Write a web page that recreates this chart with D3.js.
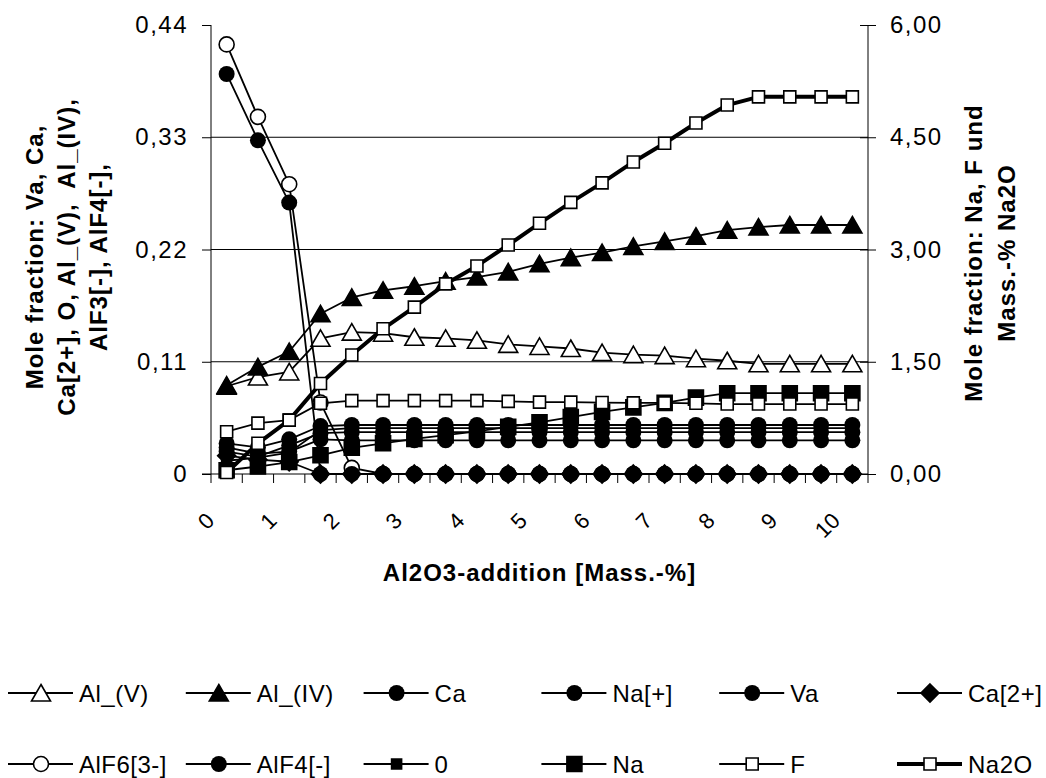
<!DOCTYPE html>
<html>
<head>
<meta charset="utf-8">
<script src="https://cdn.jsdelivr.net/npm/d3@7"></script>
<style>
  body { margin: 0; background: #fff; }
  text { font-family: "Liberation Sans", Arial, sans-serif; fill: #000; }
</style>
</head>
<body>
<div id="chart"></div>
<script>
////////////////////////////////////////////////////////////////////////
// Data

// Al2O3 addition in steps of 0.5 mass-%
let categories = [0, 0.5, 1, 1.5, 2, 2.5, 3, 3.5, 4, 4.5, 5, 5.5, 6, 6.5, 7, 7.5, 8, 8.5, 9, 9.5, 10];
let xTickLabels = ["0", "1", "2", "3", "4", "5", "6", "7", "8", "9", "10"];

let leftTicks = [0, 0.11, 0.22, 0.33, 0.44];
let leftTickLabels = ["0", "0,11", "0,22", "0,33", "0,44"];
let rightTicks = [0, 1.5, 3, 4.5, 6];
let rightTickLabels = ["0,00", "1,50", "3,00", "4,50", "6,00"];

// primary axis (mole fraction)
let alV    = [0.086, 0.095, 0.100, 0.133, 0.139, 0.138, 0.134, 0.133, 0.131, 0.127, 0.125, 0.123, 0.119, 0.117, 0.116, 0.113, 0.111, 0.108, 0.108, 0.108, 0.108];
let alIV   = [0.087, 0.105, 0.120, 0.157, 0.173, 0.180, 0.184, 0.189, 0.193, 0.198, 0.206, 0.212, 0.217, 0.223, 0.228, 0.233, 0.239, 0.242, 0.244, 0.244, 0.244];
let ca     = [0.030, 0.026, 0.034, 0.047, 0.048, 0.048, 0.048, 0.048, 0.048, 0.048, 0.048, 0.048, 0.048, 0.048, 0.048, 0.048, 0.048, 0.048, 0.048, 0.048, 0.048];
let naPlus = [0.026, 0.020, 0.022, 0.034, 0.033, 0.033, 0.033, 0.033, 0.033, 0.033, 0.033, 0.033, 0.033, 0.033, 0.033, 0.033, 0.033, 0.033, 0.033, 0.033, 0.033];
let va     = [0.022, 0.017, 0.028, 0.040, 0.041, 0.041, 0.041, 0.041, 0.041, 0.041, 0.041, 0.041, 0.041, 0.041, 0.041, 0.041, 0.041, 0.041, 0.041, 0.041, 0.041];
let ca2    = [0.018, 0.014, 0.012, 0.000, 0.000, 0.000, 0.000, 0.000, 0.000, 0.000, 0.000, 0.000, 0.000, 0.000, 0.000, 0.000, 0.000, 0.000, 0.000, 0.000, 0.000];
let alF6   = [0.421, 0.350, 0.284, 0.070, 0.006, 0.000, 0.000, 0.000, 0.000, 0.000, 0.000, 0.000, 0.000, 0.000, 0.000, 0.000, 0.000, 0.000, 0.000, 0.000, 0.000];
let alF4   = [0.392, 0.327, 0.266, 0.000, 0.000, 0.000, 0.000, 0.000, 0.000, 0.000, 0.000, 0.000, 0.000, 0.000, 0.000, 0.000, 0.000, 0.000, 0.000, 0.000, 0.000];
let oxy    = [0.013, 0.016, 0.021, 0.043, 0.045, 0.045, 0.045, 0.045, 0.045, 0.045, 0.045, 0.045, 0.045, 0.045, 0.045, 0.045, 0.045, 0.045, 0.045, 0.045, 0.045];

// secondary axis (Na, F mole fraction and mass-% Na2O)
let na     = [0.05, 0.10, 0.16, 0.25, 0.35, 0.41, 0.47, 0.52, 0.57, 0.63, 0.69, 0.76, 0.83, 0.89, 0.95, 1.02, 1.08, 1.08, 1.08, 1.08, 1.08];
let fl     = [0.565, 0.68, 0.72, 0.945, 0.98, 0.98, 0.98, 0.98, 0.98, 0.97, 0.96, 0.96, 0.955, 0.95, 0.95, 0.945, 0.935, 0.935, 0.935, 0.935, 0.935];
let na2o   = [0.02, 0.41, 0.72, 1.21, 1.59, 1.94, 2.23, 2.54, 2.78, 3.06, 3.35, 3.63, 3.89, 4.17, 4.42, 4.69, 4.93, 5.04, 5.04, 5.04, 5.04];

// series table in legend order (also drawing order)
let series = [
  { name: "Al_(V)",   values: alV,    axis: "L", marker: "triangle", fill: "#fff", width: 1.8 },
  { name: "Al_(IV)",  values: alIV,   axis: "L", marker: "triangle", fill: "#000", width: 1.8 },
  { name: "Ca",       values: ca,     axis: "L", marker: "circle",   fill: "#000", width: 1.8 },
  { name: "Na[+]",    values: naPlus, axis: "L", marker: "circle",   fill: "#000", width: 1.8 },
  { name: "Va",       values: va,     axis: "L", marker: "circle",   fill: "#000", width: 1.8 },
  { name: "Ca[2+]",   values: ca2,    axis: "L", marker: "diamond",  fill: "#000", width: 1.8 },
  { name: "AlF6[3-]", values: alF6,   axis: "L", marker: "ocircle",  fill: "#fff", width: 1.8 },
  { name: "AlF4[-]",  values: alF4,   axis: "L", marker: "circle",   fill: "#000", width: 1.8 },
  { name: "0",        values: oxy,    axis: "L", marker: "ssquare",  fill: "#000", width: 1.8 },
  { name: "Na",       values: na,     axis: "R", marker: "bsquare",  fill: "#000", width: 1.8 },
  { name: "F",        values: fl,     axis: "R", marker: "osquare",  fill: "#fff", width: 1.8 },
  { name: "Na2O",     values: na2o,   axis: "R", marker: "osquare",  fill: "#fff", width: 4 }
];

////////////////////////////////////////////////////////////////////////
// Layout

let width = 1046, height = 778;
let plotLeft = 211, plotRight = 868, plotTop = 25, plotBottom = 474;

let svg = d3.select("#chart").append("svg")
  .attr("width", width).attr("height", height);

let xScale = d3.scaleBand().domain(categories).range([plotLeft, plotRight]);
let yLeft = d3.scaleLinear().domain([0, 0.44]).range([plotBottom, plotTop]);
let yRight = d3.scaleLinear().domain([0, 6]).range([plotBottom, plotTop]);

function cx(d) { return xScale(d) + xScale.bandwidth() / 2; }

// marker shapes
function markerPath(type) {
  if (type == "triangle") return "M0,-8.5L9.5,8L-9.5,8Z";
  if (type == "diamond") return "M0,-9L9,0L0,9L-9,0Z";
  let s = type == "ssquare" ? 5 : type == "bsquare" ? 7.5 : type == "osquare" ? 6 : 0;
  return `M${-s},${-s}H${s}V${s}H${-s}Z`;
}

function drawMarker(g, s, x, y) {
  if (s.marker == "circle") {
    g.append("circle").attr("cx", x).attr("cy", y).attr("r", 8).attr("fill", "#000");
  } else if (s.marker == "ocircle") {
    g.append("circle").attr("cx", x).attr("cy", y).attr("r", 7.5)
      .attr("fill", "#fff").attr("stroke", "#000").attr("stroke-width", 1.6);
  } else {
    g.append("path").attr("transform", `translate(${x},${y})`)
      .attr("d", markerPath(s.marker))
      .attr("fill", s.fill).attr("stroke", "#000").attr("stroke-width", 1.6);
  }
}

// gridlines
svg.append("g").selectAll("line")
  .data(leftTicks.slice(1, 4))
  .join("line")
  .attr("x1", plotLeft).attr("x2", plotRight)
  .attr("y1", d => yLeft(d)).attr("y2", d => yLeft(d))
  .attr("stroke", "#000").attr("stroke-width", 1);

// left axis
let leftAxis = svg.append("g")
  .attr("transform", `translate(${plotLeft},0)`)
  .call(d3.axisLeft(yLeft).tickValues(leftTicks).tickSize(9).tickPadding(14)
    .tickFormat((d, i) => leftTickLabels[i]));

// right axis (ticks cross the line)
let rightAxis = svg.append("g")
  .attr("transform", `translate(${plotRight},0)`)
  .call(d3.axisRight(yRight).tickValues(rightTicks).tickSize(8).tickPadding(14)
    .tickFormat((d, i) => rightTickLabels[i]));
rightAxis.selectAll(".tick line").attr("x1", -8);

[leftAxis, rightAxis].forEach(a => {
  a.select(".domain").attr("d", `M0,${plotTop}V${plotBottom}`).attr("stroke", "#000");
  a.selectAll(".tick line").attr("stroke", "#000");
  a.selectAll(".tick text")
    .style("font-family", "'Liberation Sans', Arial, sans-serif")
    .style("font-size", "24px").style("letter-spacing", "1.5px").attr("fill", "#000");
});

// x axis: line plus ticks at the category borders
let xAxisG = svg.append("g");
xAxisG.append("line")
  .attr("x1", plotLeft - 9).attr("x2", plotRight)
  .attr("y1", plotBottom).attr("y2", plotBottom)
  .attr("stroke", "#000");
xAxisG.selectAll(".xtick")
  .data(categories.concat(["end"]))
  .join("line")
  .attr("class", "xtick")
  .attr("x1", d => d == "end" ? plotRight : xScale(d))
  .attr("x2", d => d == "end" ? plotRight : xScale(d))
  .attr("y1", plotBottom).attr("y2", plotBottom + 9)
  .attr("stroke", "#000");

let labelled = categories.filter(c => Number.isInteger(c));
xAxisG.selectAll(".xlabel")
  .data(labelled)
  .join("text")
  .attr("class", "xlabel")
  .attr("text-anchor", "end")
  .attr("transform", d => `translate(${cx(d) - 11},522) rotate(-45)`)
  .attr("font-size", "22px")
  .text((d, i) => xTickLabels[i]);

// series
let lineGen = d3.line();
series.forEach(s => {
  let y = s.axis == "L" ? yLeft : yRight;
  let pts = categories.map((c, i) => [cx(c), y(s.values[i])]);
  let g = svg.append("g");
  g.append("path")
    .attr("d", lineGen(pts))
    .attr("fill", "none").attr("stroke", "#000")
    .attr("stroke-width", s.width).attr("stroke-linejoin", "round");
  pts.forEach(p => drawMarker(g, s, p[0], p[1]));
});

// axis titles
svg.append("text")
  .attr("x", (plotLeft + plotRight) / 2).attr("y", 581)
  .attr("text-anchor", "middle")
  .attr("font-size", "24px").attr("font-weight", "bold")
  .style("letter-spacing", "1px")
  .text("Al2O3-addition [Mass.-%]");

let leftTitle = ["Mole fraction: Va, Ca,", "Ca[2+], O, Al_(V),  Al_(IV),", "AlF3[-], AlF4[-],"];
svg.selectAll(".ltitle")
  .data(leftTitle)
  .join("text")
  .attr("class", "ltitle")
  .attr("text-anchor", "middle")
  .attr("transform", (d, i) => `translate(${43 + i * 32},257) rotate(-90)`)
  .attr("font-size", "24px").attr("font-weight", "bold")
  .style("letter-spacing", "1px")
  .style("white-space", "pre")
  .text(d => d);

let rightTitle = ["Mole fraction: Na, F und", "Mass.-% Na2O"];
svg.selectAll(".rtitle")
  .data(rightTitle)
  .join("text")
  .attr("class", "rtitle")
  .attr("text-anchor", "middle")
  .attr("transform", (d, i) => `translate(${982 + i * 33},253) rotate(-90)`)
  .attr("font-size", "24px").attr("font-weight", "bold")
  .style("letter-spacing", "1px")
  .text(d => d);

// legend: two rows of six
let legend = svg.append("g");
series.forEach((s, i) => {
  let col = i % 6, row = Math.floor(i / 6);
  let x0 = 8 + col * 177.8;
  let y0 = row == 0 ? 693 : 764;
  let g = legend.append("g");
  g.append("line")
    .attr("x1", x0).attr("x2", x0 + 65)
    .attr("y1", y0).attr("y2", y0)
    .attr("stroke", "#000").attr("stroke-width", s.width);
  drawMarker(g, s, x0 + 33, y0);
  g.append("text")
    .attr("x", x0 + 71).attr("y", y0 + 8.5)
    .attr("font-size", "24px")
    .style("letter-spacing", "0.5px")
    .text(s.name);
});
</script>
</body>
</html>
